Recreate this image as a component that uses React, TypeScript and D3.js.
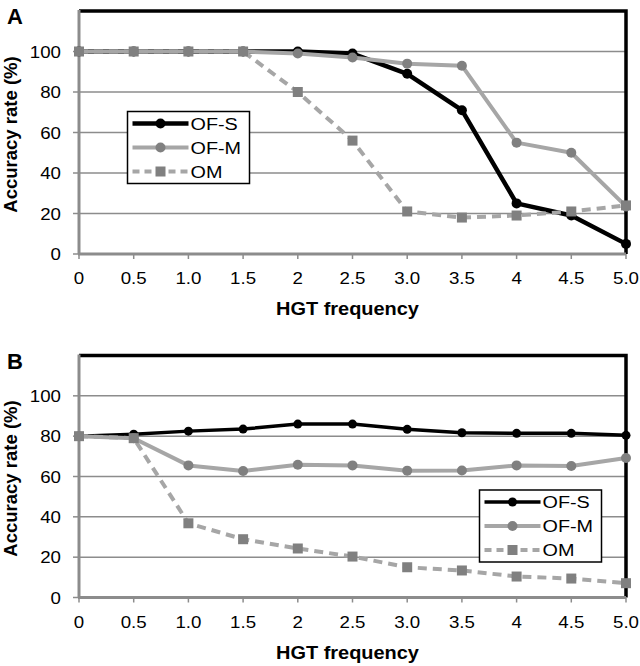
import * as d3 from "d3";
import React from "react";

// x categories (HGT frequency) and y ticks
const hgtLabels = ["0", "0.5", "1.0", "1.5", "2", "2.5", "3.0", "3.5", "4", "4.5", "5.0"];
const yTicks = [0, 20, 40, 60, 80, 100];

// panel A
const ofS_A = [100, 100, 100, 100, 100, 99, 89, 71, 25, 19, 5];
const ofM_A = [100, 100, 100, 100, 99, 97, 94, 93, 55, 50, 23.5];
const om_A = [100, 100, 100, 100, 80, 56, 21, 18, 19, 21, 24];

// panel B
const ofS_B = [80, 81, 82.5, 83.5, 86, 86, 83.4, 81.7, 81.4, 81.4, 80.4];
const ofM_B = [80, 79, 65.5, 62.7, 65.8, 65.5, 62.9, 63, 65.5, 65.2, 69.2];
const om_B = [80, 79, 36.8, 28.9, 24.3, 20.3, 15, 13.4, 10.4, 9.4, 7.1];

const seriesNames = ["OF-S", "OF-M", "OM"];

const LINE_GRAY = "#a6a6a6";
const MARK_GRAY = "#808080";
const FONT = "'Liberation Sans', Arial, sans-serif";

// the original text is a bit stretched sideways, so scale it horizontally
function SText(props: { x: number; y: number; sx: number; size: number; anchor?: string; bold?: boolean; rotate?: number; children: any }) {
    const rot = props.rotate ? ` rotate(${props.rotate})` : "";
    return (
        <text transform={`translate(${props.x},${props.y})${rot} scale(${props.sx},1)`}
            textAnchor={props.anchor || "start"} fontSize={props.size}
            fontWeight={props.bold ? "bold" : "normal"} fontFamily={FONT}>
            {props.children}
        </text>
    );
}

interface PanelProps {
    letter: string;
    top: number;
    bottom: number;
    data: number[][];
    legendX: number;
    legendY: number;
    legendW: number;
    blackWidth: number;
    blackR: number;
}

function Panel(props: PanelProps) {
    const left = 79;
    const right = 626;
    const x = d3.scalePoint<string>().domain(hgtLabels).range([left, right]);
    const y = d3.scaleLinear().domain([0, 120]).range([props.bottom, props.top]);
    const line = d3.line<number>()
        .x((d, i) => x(hgtLabels[i]) as number)
        .y(d => y(d));

    const styles = [
        { stroke: "#000", width: props.blackWidth, dash: "", mark: "circle", fill: "#000", r: props.blackR },
        { stroke: LINE_GRAY, width: 4, dash: "", mark: "circle", fill: MARK_GRAY, r: 5 },
        { stroke: LINE_GRAY, width: 4, dash: "9,6", mark: "square", fill: MARK_GRAY, r: 5 },
    ];

    const marker = (kind: string, cx: number, cy: number, r: number, fill: string, key: any) =>
        kind === "circle"
            ? <circle key={key} cx={cx} cy={cy} r={r} fill={fill} />
            : <rect key={key} x={cx - r} y={cy - r} width={2 * r} height={2 * r} fill={fill} />;

    const midY = (props.top + props.bottom) / 2 + 2;

    return (
        <g>
            {/* grid */}
            {yTicks.filter(t => t > 0).map(t => (
                <line key={t} x1={left} x2={right} y1={y(t)} y2={y(t)} stroke="#8c8c8c" strokeWidth={1.5} />
            ))}
            {/* frame */}
            <path d={`M${left},${props.top}H${right}V${props.bottom}`} fill="none" stroke="#000" strokeWidth={3.5} />
            {/* axes */}
            <line x1={left} x2={left} y1={props.top - 1} y2={props.bottom} stroke="#8c8c8c" strokeWidth={3} />
            <line x1={left - 1} x2={right} y1={props.bottom} y2={props.bottom} stroke="#8c8c8c" strokeWidth={3} />
            {yTicks.map(t => (
                <g key={t}>
                    <line x1={left - 6} x2={left} y1={y(t)} y2={y(t)} stroke="#8c8c8c" strokeWidth={1.5} />
                    <SText x={61} y={y(t) + 6} sx={1.1} size={17} anchor="end">{t}</SText>
                </g>
            ))}
            {hgtLabels.map(l => (
                <g key={l}>
                    <line x1={x(l)} x2={x(l)} y1={props.bottom} y2={props.bottom + 5} stroke="#8c8c8c" strokeWidth={1.5} />
                    <SText x={x(l) as number} y={props.bottom + 30} sx={1.1} size={17} anchor="middle">{l}</SText>
                </g>
            ))}
            <SText x={(left + right) / 2 - 5} y={props.bottom + 61} sx={1.05} size={19} anchor="middle" bold>
                HGT frequency
            </SText>
            <SText x={17} y={midY} sx={1.0} size={18.5} anchor="middle" bold rotate={-90}>
                Accuracy rate (%)
            </SText>
            <text x={7} y={props.top + 13} fontSize={22} fontWeight="bold" fontFamily={FONT}>{props.letter}</text>

            {/* series */}
            {props.data.map((vals, si) => {
                const s = styles[si];
                return (
                    <g key={si}>
                        <path d={line(vals) || ""} fill="none" stroke={s.stroke} strokeWidth={s.width}
                            strokeDasharray={s.dash || undefined} strokeLinejoin="round" />
                        {vals.map((v, i) => marker(s.mark, x(hgtLabels[i]) as number, y(v), s.r, s.fill, i))}
                    </g>
                );
            })}

            {/* legend */}
            <g>
                <rect x={props.legendX} y={props.legendY} width={props.legendW} height={72}
                    fill="#fff" stroke="#000" strokeWidth={1.5} />
                {seriesNames.map((n, i) => {
                    const s = styles[i];
                    const ry = props.legendY + 12 + i * 24;
                    const x0 = props.legendX + 5;
                    const x1 = props.legendX + 61;
                    return (
                        <g key={n}>
                            <line x1={x0} x2={x1} y1={ry} y2={ry} stroke={s.stroke} strokeWidth={s.width}
                                strokeDasharray={s.dash ? "7,5" : undefined} />
                            {marker(s.mark, (x0 + x1) / 2, ry, s.r, s.fill, "m")}
                            <SText x={x1 + 2} y={ry + 6} sx={1.2} size={16.5}>{n}</SText>
                        </g>
                    );
                })}
            </g>
        </g>
    );
}

export default function App() {
    return (
        <svg width={640} height={666} style={{ position: "absolute", left: 0, top: 0, background: "#fff" }}>
            <Panel letter="A" top={11} bottom={254} data={[ofS_A, ofM_A, om_A]}
                legendX={127.5} legendY={111.5} legendW={122} blackWidth={4.5} blackR={5} />
            <Panel letter="B" top={355.5} bottom={597.5} data={[ofS_B, ofM_B, om_B]}
                legendX={479.5} legendY={490} legendW={122} blackWidth={3.5} blackR={4.5} />
        </svg>
    );
}
